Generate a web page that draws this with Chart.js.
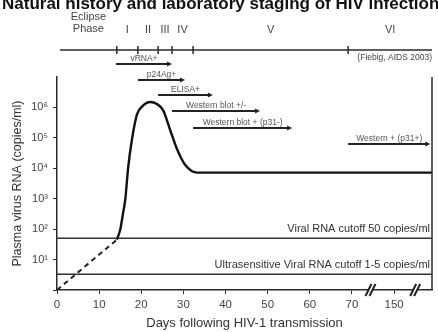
<!DOCTYPE html>
<html>
<head>
<meta charset="utf-8">
<script src="https://cdn.jsdelivr.net/npm/chart.js@4.4.1/dist/chart.umd.min.js"></script>
<style>
  body { margin: 0; background: #fff; }
  #wrap { width: 438px; height: 332px; }
</style>
</head>
<body>
<div id="wrap"><canvas id="hiv" width="438" height="332"></canvas></div>
<script>
// viral load curve (days after transmission, copies/ml)
var eclipseDays = [0, 14.2];
var eclipseLoads = [1, 45];
var curveDays = [14.2, 15, 15.7, 16.2, 16.9, 17.8, 19.0, 20.3, 22.1, 23.7, 25.2, 26.8, 28.5, 30.4, 33.3, 36, 89];
var curveLoads = [45, 95, 350, 930, 11000, 90000, 600000, 1100000, 1500000, 1300000, 800000, 190000, 42000, 13000, 7200, 7200, 7200];

// detection cutoffs
var cutoffValues = [50, 3.3];
var cutoffLabels = ["Viral RNA cutoff 50 copies/ml", "Ultrasensitive Viral RNA cutoff 1-5 copies/ml"];

// Fiebig stages
var stageBounds = [14.2, 19.2, 24, 27.3, 32.3, 69.1];
var stageNames = ["I", "II", "III", "IV", "V", "VI"];
var timelineStart = 0.7;

// lab tests positive windows
var testNames = ["vRNA+", "p24Ag+", "ELISA+", "Western blot +/-", "Western blot + (p31-)", "Western + (p31+)"];
var testStart = [14.0, 19.2, 24, 27.3, 32.3, 69.1];
var testEnd = [27.3, 30.4, 37, 48.2, 55.8, 88.6];

// x axis
var xMax = 89;
var breakDays = [74.4, 85];
var xTickMap = { 80: "150" };
var yTickValues = [1, 10, 100, 1000, 10000, 100000, 1000000, 10000000];
var sup = { 1: "\u00b9", 2: "\u00b2", 3: "\u00b3", 4: "\u2074", 5: "\u2075", 6: "\u2076" };

var FONT = '"Liberation Sans", Arial, sans-serif';
var INK = '#2a2a2a';

function pts(xs, ys) {
    return xs.map(function (d, i) { return { x: d, y: ys[i] }; });
}

var datasets = [
    {
        data: pts(eclipseDays, eclipseLoads),
        borderColor: '#222', borderWidth: 2, borderDash: [5, 4],
        pointRadius: 0, fill: false
    },
    {
        data: pts(curveDays, curveLoads),
        borderColor: '#111', borderWidth: 2.4,
        cubicInterpolationMode: 'monotone',
        pointRadius: 0, fill: false
    }
];
cutoffValues.forEach(function (v) {
    datasets.push({
        data: [{ x: 0, y: v }, { x: xMax, y: v }],
        borderColor: '#333', borderWidth: 1.4,
        pointRadius: 0, fill: false
    });
});

function arrow(ctx, x1, x2, y) {
    ctx.beginPath();
    ctx.moveTo(x1, y);
    ctx.lineTo(x2 - 3, y);
    ctx.stroke();
    ctx.beginPath();
    ctx.moveTo(x2, y);
    ctx.lineTo(x2 - 5, y - 2.5);
    ctx.lineTo(x2 - 5, y + 2.5);
    ctx.closePath();
    ctx.fill();
}

var decor = {
    id: 'decor',
    afterDraw: function (chart) {
        var ctx = chart.ctx, xs = chart.scales.x, ys = chart.scales.y, a = chart.chartArea;
        ctx.save();

        // title (cut off at top and right like the source)
        ctx.fillStyle = '#111';
        ctx.font = 'bold 17px ' + FONT;
        ctx.textAlign = 'left';
        ctx.textBaseline = 'alphabetic';
        ctx.fillText("Natural history and laboratory staging of HIV infection", 2, 9);

        // right frame line
        ctx.strokeStyle = INK;
        ctx.lineWidth = 1.5;
        ctx.beginPath();
        ctx.moveTo(a.right, a.top);
        ctx.lineTo(a.right, a.bottom);
        ctx.stroke();

        // stage timeline
        var ty = 50;
        ctx.beginPath();
        ctx.moveTo(xs.getPixelForValue(timelineStart), ty);
        ctx.lineTo(a.right, ty);
        ctx.stroke();
        stageBounds.forEach(function (d) {
            var px = xs.getPixelForValue(d);
            ctx.beginPath();
            ctx.moveTo(px, ty - 4);
            ctx.lineTo(px, ty + 4);
            ctx.stroke();
        });
        ctx.fillStyle = '#444';
        ctx.font = '11px ' + FONT;
        ctx.textAlign = 'center';
        ctx.textBaseline = 'middle';
        var ex = xs.getPixelForValue((timelineStart + stageBounds[0]) / 2);
        ctx.fillText("Eclipse", ex, 17);
        ctx.fillText("Phase", ex, 29);
        stageNames.forEach(function (n, i) {
            var from = stageBounds[i];
            var to = i + 1 < stageBounds.length ? stageBounds[i + 1] : xMax;
            ctx.fillText(n, xs.getPixelForValue((from + to) / 2), 30);
        });
        ctx.font = '8.5px ' + FONT;
        ctx.textAlign = 'right';
        ctx.fillText("(Fiebig, AIDS 2003)", a.right, 58);

        // lab test arrows
        var rowY = [64, 80, 95, 111, 128, 144];
        ctx.strokeStyle = '#222';
        ctx.lineWidth = 2;
        testNames.forEach(function (n, i) {
            var x1 = xs.getPixelForValue(testStart[i]);
            var x2 = xs.getPixelForValue(testEnd[i]);
            ctx.fillStyle = '#222';
            arrow(ctx, x1, x2, rowY[i]);
            ctx.fillStyle = '#555';
            ctx.font = '8.5px ' + FONT;
            ctx.textAlign = 'center';
            ctx.textBaseline = 'alphabetic';
            ctx.fillText(n, (x1 + x2) / 2, rowY[i] - 3);
        });

        // cutoff labels
        ctx.fillStyle = '#333';
        ctx.font = '11px ' + FONT;
        ctx.textAlign = 'right';
        ctx.textBaseline = 'middle';
        cutoffValues.forEach(function (v, i) {
            ctx.fillText(cutoffLabels[i], a.right - 2, ys.getPixelForValue(v) - 9);
        });

        // axis break marks
        ctx.lineWidth = 2;
        ctx.strokeStyle = '#222';
        breakDays.forEach(function (d) {
            var px = xs.getPixelForValue(d);
            ctx.fillStyle = '#fff';
            ctx.fillRect(px - 2, a.bottom - 2, 4, 4);
            [-2, 2].forEach(function (o) {
                ctx.beginPath();
                ctx.moveTo(px + o - 3, a.bottom + 6);
                ctx.lineTo(px + o + 3, a.bottom - 6);
                ctx.stroke();
            });
        });

        ctx.restore();
    }
};

new Chart(document.getElementById('hiv'), {
    type: 'line',
    data: { datasets: datasets },
    plugins: [decor],
    options: {
        responsive: false,
        animation: false,
        layout: { padding: { top: 77, right: 6, left: 0, bottom: 0 } },
        plugins: {
            legend: { display: false },
            tooltip: { enabled: false },
            title: { display: false }
        },
        scales: {
            x: {
                type: 'linear',
                min: 0,
                max: xMax,
                afterFit: function (s) { s.height = 42; },
                afterBuildTicks: function (s) {
                    s.ticks = s.ticks.filter(function (t) { return t.value % 10 === 0; });
                },
                ticks: {
                    stepSize: 10,
                    padding: 4,
                    color: '#444',
                    font: { size: 11.5, family: FONT },
                    callback: function (v) { return xTickMap[v] || String(v); }
                },
                grid: { drawOnChartArea: false, tickLength: 4, color: INK },
                border: { color: INK, width: 1.5 },
                title: {
                    display: true,
                    text: 'Days following HIV-1 transmission',
                    color: '#333',
                    font: { size: 13, family: FONT },
                    padding: { top: 0, bottom: 1 }
                }
            },
            y: {
                type: 'logarithmic',
                min: 1,
                max: 10000000,
                afterFit: function (s) { s.width = 57; },
                afterBuildTicks: function (s) {
                    s.ticks = yTickValues.map(function (v) { return { value: v }; });
                },
                ticks: {
                    padding: 5,
                    color: '#444',
                    font: { size: 11, family: FONT },
                    callback: function (v) {
                        var e = Math.round(Math.log10(v));
                        return sup[e] ? '10' + sup[e] : '';
                    }
                },
                grid: {
                    drawOnChartArea: false,
                    tickLength: 4,
                    color: function (c) { return c.tick && c.tick.value >= 10000000 ? 'rgba(0,0,0,0)' : INK; }
                },
                border: { color: INK, width: 1.5 },
                title: {
                    display: true,
                    text: 'Plasma virus RNA (copies/ml)',
                    color: '#333',
                    font: { size: 12.5, family: FONT },
                    padding: { top: 10, bottom: 0 }
                }
            }
        }
    }
});
</script>
</body>
</html>
